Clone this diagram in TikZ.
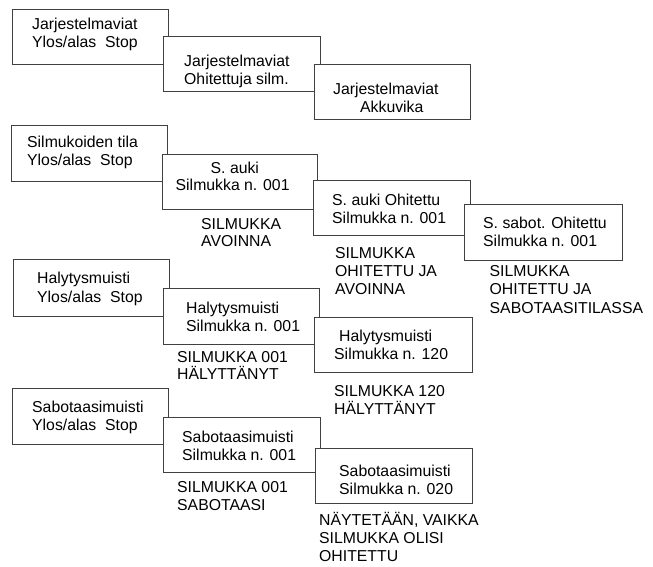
\documentclass[tikz,border=0pt]{standalone}
\usepackage{fontspec}
\setmainfont{Liberation Sans}
\begin{document}
\begin{tikzpicture}[x=1pt,y=-1pt,
  box/.style={draw=black!75, line width=1pt, fill=white, anchor=north west, inner sep=0pt},
  txt/.style={inner sep=0pt, anchor=base west, font=\fontsize{15.8}{18}\selectfont}]
\useasboundingbox (0,0) rectangle (653,566);
% group 1
\node[box, minimum width=156pt, minimum height=55pt] (a1) at (12,9) {};
\node[txt] (a1t1) at (32,29.5) {Jarjestelmaviat};
\node[txt] (a1t2) at (32,47) {Ylos/alas\ \ Stop};
\node[box, minimum width=157pt, minimum height=55pt] (a2) at (163,36) {};
\node[txt] (a2t1) at (184,66.5) {Jarjestelmaviat};
\node[txt] (a2t2) at (184,84) {Ohitettuja silm.};
\node[box, minimum width=156pt, minimum height=55pt] (a3) at (314,64) {};
\node[txt] (a3t1) at (333,94) {Jarjestelmaviat};
\node[txt] (a3t2) at (360,112) {Akkuvika};
% group 2
\node[box, minimum width=156pt, minimum height=56pt] (b1) at (11,125) {};
\node[txt] (b1t1) at (27,147.5) {Silmukoiden tila};
\node[txt] (b1t2) at (27,165.5) {Ylos/alas\ \ Stop};
\node[box, minimum width=155pt, minimum height=55pt] (b2) at (162,154) {};
\node[txt] (b2t1) at (210.5,173) {S. auki};
\node[txt] (b2t2) at (175.5,190.5) {Silmukka n. 001};
\node[box, minimum width=157pt, minimum height=54.5pt] (b3) at (312.5,180) {};
\node[txt] (b3t1) at (332,205) {S. auki Ohitettu};
\node[txt] (b3t2) at (332,223) {Silmukka n. 001};
\node[box, minimum width=158pt, minimum height=56pt] (b4) at (463.5,203.5) {};
\node[txt] (b4t1) at (483,228) {S. sabot. Ohitettu};
\node[txt] (b4t2) at (483,246) {Silmukka n. 001};
\node[txt] (l1a) at (201,229) {SILMUKKA};
\node[txt] (l1b) at (201,246.5) {AVOINNA};
\node[txt] (l2a) at (335,258.5) {SILMUKKA};
\node[txt] (l2b) at (335,276) {OHITETTU JA};
\node[txt] (l2c) at (335,294) {AVOINNA};
\node[txt] (l3a) at (489.5,276) {SILMUKKA};
\node[txt] (l3b) at (489.5,294.5) {OHITETTU JA};
\node[txt] (l3c) at (489.5,313) {SABOTAASITILASSA};
% group 3
\node[box, minimum width=156pt, minimum height=57pt] (c1) at (13,259) {};
\node[txt] (c1t1) at (37,283) {Halytysmuisti};
\node[txt] (c1t2) at (37,302) {Ylos/alas\ \ Stop};
\node[box, minimum width=156pt, minimum height=56pt] (c2) at (163,288) {};
\node[txt] (c2t1) at (186,313) {Halytysmuisti};
\node[txt] (c2t2) at (186,331) {Silmukka n. 001};
\node[box, minimum width=158pt, minimum height=55pt] (c3) at (314,317) {};
\node[txt] (c3t1) at (339,341.5) {Halytysmuisti};
\node[txt] (c3t2) at (334,359.5) {Silmukka n. 120};
\node[txt] (l4a) at (177,362) {SILMUKKA 001};
\node[txt] (l4b) at (177,379.5) {HÄLYTTÄNYT};
\node[txt] (l5a) at (334,396.5) {SILMUKKA 120};
\node[txt] (l5b) at (334,414) {HÄLYTTÄNYT};
% group 4
\node[box, minimum width=156pt, minimum height=56pt] (d1) at (12,388) {};
\node[txt] (d1t1) at (32,412) {Sabotaasimuisti};
\node[txt] (d1t2) at (32,430) {Ylos/alas\ \ Stop};
\node[box, minimum width=157pt, minimum height=55pt] (d2) at (163,417) {};
\node[txt] (d2t1) at (182,442) {Sabotaasimuisti};
\node[txt] (d2t2) at (182,460) {Silmukka n. 001};
\node[box, minimum width=156.5pt, minimum height=55pt] (d3) at (315,447.5) {};
\node[txt] (d3t1) at (339,476.5) {Sabotaasimuisti};
\node[txt] (d3t2) at (339,494) {Silmukka n. 020};
\node[txt] (l6a) at (177,492.5) {SILMUKKA 001};
\node[txt] (l6b) at (177,510) {SABOTAASI};
\node[txt] (l7a) at (319,525) {NÄYTETÄÄN, VAIKKA};
\node[txt] (l7b) at (319,543) {SILMUKKA OLISI};
\node[txt] (l7c) at (319,561) {OHITETTU};
\end{tikzpicture}
\end{document}
